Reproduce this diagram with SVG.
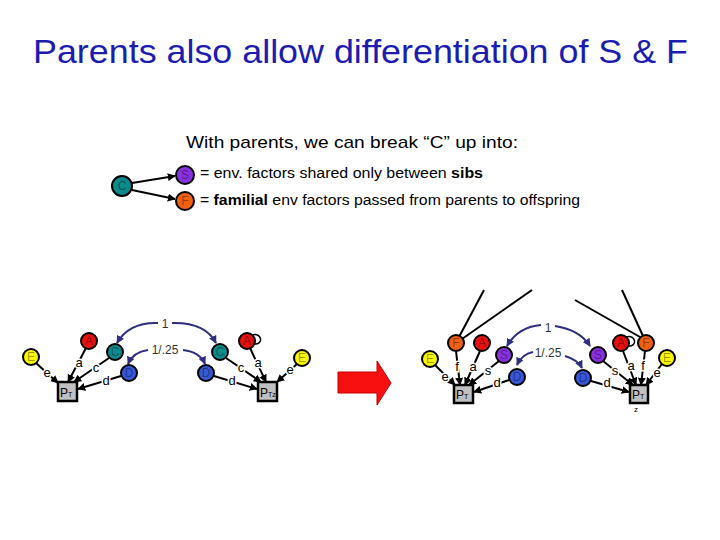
<svg xmlns="http://www.w3.org/2000/svg" width="720" height="540" viewBox="0 0 720 540">
<defs>
<marker id="ah" viewBox="0 0 10 10" refX="9" refY="5" markerWidth="4" markerHeight="4" orient="auto-start-reverse" markerUnits="strokeWidth"><path d="M0,0 L10,5 L0,10 z" fill="#000"/></marker>
<marker id="ahb" viewBox="0 0 10 10" refX="9" refY="5" markerWidth="4" markerHeight="4" orient="auto" markerUnits="strokeWidth"><path d="M0,0 L10,5 L0,10 z" fill="#2e2e80"/></marker>
<style>
text{font-family:"Liberation Sans",Arial,sans-serif}
.nd{stroke:#000;stroke-width:2}
.nl{font-size:12px;fill:#000;fill-opacity:.4;text-anchor:middle}
.E{fill:#f8f800}.A{fill:#e81010}.C{fill:#0a8a8a}.D{fill:#3858d8}.S{fill:#8a30e0}.F{fill:#f06010}
.pt{fill:#c0c0c0;stroke:#000;stroke-width:2.5}
.ptl{font-size:12px;fill:#000}
.ed{stroke:#000;stroke-width:2;fill:none;marker-end:url(#ah)}
.ln{stroke:#000;stroke-width:2;fill:none}
.arc{stroke:#2e2e80;stroke-width:2;fill:none;marker-end:url(#ahb)}
.el{font-size:13px;fill:#000;text-anchor:middle;stroke:#fff;stroke-width:3;paint-order:stroke}
.al{font-size:12px;fill:#333;text-anchor:middle}
.loop{stroke:#000;stroke-width:1.5;fill:none}
</style>
</defs>
<rect width="720" height="540" fill="#fff"/>
<text x="33" y="63" font-size="34" fill="#1c1cb0" textLength="655" lengthAdjust="spacingAndGlyphs">Parents also allow differentiation of S &amp; F</text>
<text x="186" y="148" font-size="17" fill="#000" textLength="332" lengthAdjust="spacingAndGlyphs">With parents, we can break “C” up into:</text>

<g id="connectors">
<line class="ed" x1="132" y1="183" x2="175" y2="176"/>
<line class="ed" x1="132" y1="190" x2="175" y2="199"/>
<line class="ed" x1="36" y1="363" x2="58" y2="383"/>
<line class="ed" x1="86" y1="348" x2="68" y2="382"/>
<line class="ed" x1="109" y1="358" x2="74" y2="382"/>
<line class="ed" x1="121" y1="376" x2="78" y2="389"/>
<line class="ed" x1="297" y1="364" x2="277" y2="382"/>
<line class="ed" x1="250" y1="348" x2="266" y2="382"/>
<line class="ed" x1="226" y1="358" x2="261" y2="382"/>
<line class="ed" x1="214" y1="376" x2="257" y2="389"/>
<path class="loop" d="M252,335 C262,332 264,345 254,344"/>
<path class="arc" d="M158,323 Q129,322 117,343"/>
<path class="arc" d="M172,323 Q205,322 216,343"/>
<path class="arc" d="M148,350 Q133,352 128,364"/>
<path class="arc" d="M183,350 Q200,352 205,364"/>
<line class="ln" x1="484" y1="290" x2="459" y2="337"/>
<line class="ln" x1="532" y1="290" x2="462" y2="339"/>
<line class="ed" x1="435" y1="365" x2="455" y2="385"/>
<line class="ed" x1="456" y1="351" x2="460" y2="385"/>
<line class="ed" x1="480" y1="351" x2="465" y2="385"/>
<line class="ed" x1="499" y1="361" x2="469" y2="385"/>
<line class="ed" x1="509" y1="380" x2="474" y2="392"/>
<line class="ln" x1="575" y1="300" x2="640" y2="337"/>
<line class="ln" x1="622" y1="290" x2="643" y2="336"/>
<line class="ed" x1="603" y1="361" x2="633" y2="385"/>
<line class="ed" x1="591" y1="381" x2="629" y2="392"/>
<line class="ed" x1="623" y1="351" x2="636" y2="385"/>
<line class="ed" x1="645" y1="351" x2="641" y2="385"/>
<line class="ed" x1="662" y1="364" x2="646" y2="385"/>
<path class="loop" d="M626,337 C636,334 638,347 628,346"/>
<path class="arc" d="M541,325 Q518,327 507,346"/>
<path class="arc" d="M555,326 Q580,330 590,346"/>
<path class="arc" d="M533,352 Q522,354 517,365"/>
<path class="arc" d="M565,356 Q578,360 582,368"/>
</g>

<g id="edge-labels">
<text class="el" x="47" y="377">e</text>
<text class="el" x="79" y="367">a</text>
<text class="el" x="96" y="372">c</text>
<text class="el" x="106" y="385">d</text>
<text class="el" x="290" y="374">e</text>
<text class="el" x="258" y="367">a</text>
<text class="el" x="241" y="372">c</text>
<text class="el" x="232" y="385">d</text>
<text class="el" x="445" y="381">e</text>
<text class="el" x="457" y="371">f</text>
<text class="el" x="473" y="371">a</text>
<text class="el" x="488" y="375">s</text>
<text class="el" x="497" y="387">d</text>
<text class="el" x="615" y="375">s</text>
<text class="el" x="631" y="370">a</text>
<text class="el" x="643" y="370">f</text>
<text class="el" x="657" y="377">e</text>
<text class="el" x="607" y="387">d</text>
<text class="al" x="165" y="328">1</text>
<text class="al" x="165" y="354">1/.25</text>
<text class="al" x="548" y="332">1</text>
<text class="al" x="548" y="357">1/.25</text>
</g>

<g id="top-C"><circle class="nd C" cx="122" cy="186" r="10"/><text class="nl" x="122" y="190">C</text></g>
<g id="top-S"><circle class="nd S" cx="185" cy="175" r="9"/><text class="nl" x="185" y="179">S</text></g>
<g id="top-F"><circle class="nd F" cx="185" cy="201" r="9"/><text class="nl" x="185" y="205">F</text></g>
<text x="200" y="178" font-size="15.5" textLength="283" lengthAdjust="spacingAndGlyphs">= env. factors shared only between <tspan font-weight="bold">sibs</tspan></text>
<text x="200" y="205" font-size="15.5" textLength="380" lengthAdjust="spacingAndGlyphs">= <tspan font-weight="bold">familial</tspan> env factors passed from parents to offspring</text>

<g id="l1-E"><circle class="nd E" cx="31" cy="357" r="8"/><text class="nl" x="31" y="361">E</text></g>
<g id="l1-A"><circle class="nd A" cx="89" cy="341" r="8"/><text class="nl" x="89" y="345">A</text></g>
<g id="l1-C"><circle class="nd C" cx="115" cy="352" r="8"/><text class="nl" x="115" y="356">C</text></g>
<g id="l1-D"><circle class="nd D" cx="129" cy="373" r="8"/><text class="nl" x="129" y="377">D</text></g>
<g id="l1-P"><rect class="pt" x="58" y="382" width="19" height="19"/><text class="ptl" x="60" y="397">P<tspan font-size="7">T</tspan></text></g>

<g id="l2-E"><circle class="nd E" cx="302" cy="358" r="8"/><text class="nl" x="302" y="362">E</text></g>
<g id="l2-A"><circle class="nd A" cx="247" cy="341" r="8"/><text class="nl" x="247" y="345">A</text></g>
<g id="l2-C"><circle class="nd C" cx="220" cy="352" r="8"/><text class="nl" x="220" y="356">C</text></g>
<g id="l2-D"><circle class="nd D" cx="206" cy="373" r="8"/><text class="nl" x="206" y="377">D</text></g>
<g id="l2-P"><rect class="pt" x="258" y="382" width="19" height="19"/><text class="ptl" x="260" y="397">P<tspan font-size="7">Tz</tspan></text></g>

<g id="big-arrow"><polygon points="338,372 377,372 377,361 391,383 377,405 377,393 338,393" fill="#f81010" stroke="#c00000" stroke-width="1"/></g>

<g id="r1-E"><circle class="nd E" cx="430" cy="359" r="8"/><text class="nl" x="430" y="363">E</text></g>
<g id="r1-F"><circle class="nd F" cx="456" cy="343" r="8"/><text class="nl" x="456" y="347">F</text></g>
<g id="r1-A"><circle class="nd A" cx="482" cy="343" r="8"/><text class="nl" x="482" y="347">A</text></g>
<g id="r1-S"><circle class="nd S" cx="504" cy="355" r="8"/><text class="nl" x="504" y="359">S</text></g>
<g id="r1-D"><circle class="nd D" cx="517" cy="377" r="8"/><text class="nl" x="517" y="381">D</text></g>
<g id="r1-P"><rect class="pt" x="454" y="385" width="19" height="18"/><text class="ptl" x="456" y="399">P<tspan font-size="7">T</tspan></text></g>

<g id="r2-S"><circle class="nd S" cx="598" cy="355" r="8"/><text class="nl" x="598" y="359">S</text></g>
<g id="r2-D"><circle class="nd D" cx="583" cy="378" r="8"/><text class="nl" x="583" y="382">D</text></g>
<g id="r2-A"><circle class="nd A" cx="621" cy="343" r="8"/><text class="nl" x="621" y="347">A</text></g>
<g id="r2-F"><circle class="nd F" cx="646" cy="343" r="8"/><text class="nl" x="646" y="347">F</text></g>
<g id="r2-E"><circle class="nd E" cx="667" cy="358" r="8"/><text class="nl" x="667" y="362">E</text></g>
<g id="r2-P"><rect class="pt" x="630" y="385" width="18" height="18"/><text class="ptl" x="632" y="399">P<tspan font-size="7">T</tspan></text><text x="634" y="412" font-size="8">z</text></g>
</svg>
